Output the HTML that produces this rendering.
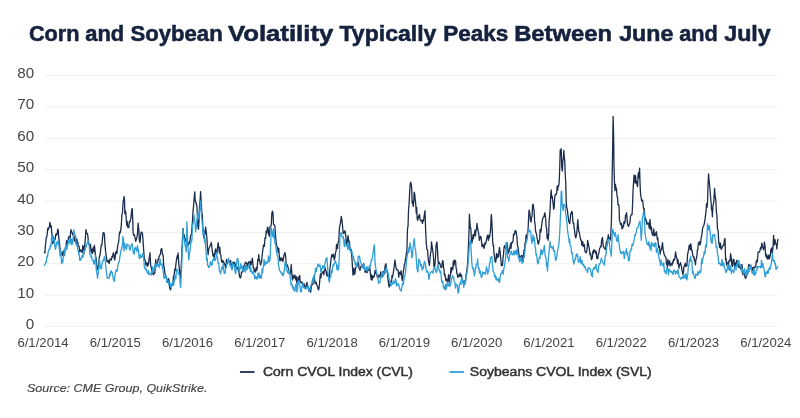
<!DOCTYPE html>
<html><head><meta charset="utf-8"><style>
html,body{margin:0;padding:0;background:#fff;}
body{width:800px;height:418px;overflow:hidden;position:relative;}
svg{position:absolute;left:0;top:0;}
.t{font-family:"Liberation Sans",sans-serif;font-weight:bold;fill:#15223e;stroke:#15223e;stroke-width:0.55px;font-size:22px;}
.yl{font-family:"Liberation Sans",sans-serif;fill:#444;font-size:15.2px;text-anchor:end;}
.xl{font-family:"Liberation Sans",sans-serif;fill:#444;font-size:13.5px;text-anchor:middle;}
.lg{font-family:"Liberation Sans",sans-serif;fill:#333;stroke:#333;stroke-width:0.45px;font-size:12.6px;}
.src{font-family:"Liberation Sans",sans-serif;fill:#444;stroke:#444;stroke-width:0.15px;font-size:11px;font-style:italic;}
</style></head><body>
<svg width="800" height="418" viewBox="0 0 800 418">
<text class="t" y="41.2"><tspan x="28.90" textLength="50.65" lengthAdjust="spacingAndGlyphs">Corn</tspan> <tspan x="85.20" textLength="39.00" lengthAdjust="spacingAndGlyphs">and</tspan> <tspan x="130.45" textLength="92.25" lengthAdjust="spacingAndGlyphs">Soybean</tspan> <tspan x="227.95" textLength="105.35" lengthAdjust="spacingAndGlyphs">Volatility</tspan> <tspan x="339.50" textLength="96.90" lengthAdjust="spacingAndGlyphs">Typically</tspan> <tspan x="443.20" textLength="65.10" lengthAdjust="spacingAndGlyphs">Peaks</tspan> <tspan x="514.20" textLength="97.85" lengthAdjust="spacingAndGlyphs">Between</tspan> <tspan x="619.20" textLength="54.10" lengthAdjust="spacingAndGlyphs">June</tspan> <tspan x="679.20" textLength="38.60" lengthAdjust="spacingAndGlyphs">and</tspan> <tspan x="724.20" textLength="46.60" lengthAdjust="spacingAndGlyphs">July</tspan> </text>
<g stroke="#efefef" stroke-width="1"><line x1="45" x2="777" y1="326.50" y2="326.50"/><line x1="45" x2="777" y1="295.12" y2="295.12"/><line x1="45" x2="777" y1="263.75" y2="263.75"/><line x1="45" x2="777" y1="232.38" y2="232.38"/><line x1="45" x2="777" y1="201.00" y2="201.00"/><line x1="45" x2="777" y1="169.62" y2="169.62"/><line x1="45" x2="777" y1="138.25" y2="138.25"/><line x1="45" x2="777" y1="106.88" y2="106.88"/><line x1="45" x2="777" y1="75.50" y2="75.50"/></g>
<g class="yl"><text x="34.1" y="329.00">0</text><text x="34.1" y="297.62">10</text><text x="34.1" y="266.25">20</text><text x="34.1" y="234.88">30</text><text x="34.1" y="203.50">40</text><text x="34.1" y="172.12">50</text><text x="34.1" y="140.75">60</text><text x="34.1" y="109.38">70</text><text x="34.1" y="78.00">80</text></g>
<g class="xl"><text x="43.00" y="346.9" textLength="51.2" lengthAdjust="spacingAndGlyphs">6/1/2014</text><text x="115.28" y="346.9" textLength="51.2" lengthAdjust="spacingAndGlyphs">6/1/2015</text><text x="187.56" y="346.9" textLength="51.2" lengthAdjust="spacingAndGlyphs">6/1/2016</text><text x="259.84" y="346.9" textLength="51.2" lengthAdjust="spacingAndGlyphs">6/1/2017</text><text x="332.12" y="346.9" textLength="51.2" lengthAdjust="spacingAndGlyphs">6/1/2018</text><text x="404.40" y="346.9" textLength="51.2" lengthAdjust="spacingAndGlyphs">6/1/2019</text><text x="476.68" y="346.9" textLength="51.2" lengthAdjust="spacingAndGlyphs">6/1/2020</text><text x="548.96" y="346.9" textLength="51.2" lengthAdjust="spacingAndGlyphs">6/1/2021</text><text x="621.24" y="346.9" textLength="51.2" lengthAdjust="spacingAndGlyphs">6/1/2022</text><text x="693.52" y="346.9" textLength="51.2" lengthAdjust="spacingAndGlyphs">6/1/2023</text><text x="765.80" y="346.9" textLength="51.2" lengthAdjust="spacingAndGlyphs">6/1/2024</text></g>
<polyline fill="none" stroke="#1b2d4d" stroke-width="1.3" stroke-linejoin="round" points="44.32,251.40 44.82,253.20 45.32,247.51 45.83,241.79 46.33,237.36 46.83,237.21 47.34,232.48 47.84,228.06 48.34,229.46 48.84,227.90 49.35,226.82 49.85,222.42 50.32,224.54 50.80,227.32 51.27,225.89 51.74,232.96 52.22,235.37 52.74,243.63 53.27,241.00 53.80,240.05 54.27,242.19 54.75,239.06 55.22,239.18 55.69,234.85 56.17,233.75 56.69,235.14 57.22,233.40 57.75,229.08 58.27,230.54 58.80,237.82 59.33,241.63 59.85,247.26 60.38,250.10 60.91,252.96 61.38,253.76 61.85,254.03 62.33,255.49 62.80,251.77 63.28,254.07 63.75,250.90 64.22,255.56 64.70,250.61 65.17,249.93 65.65,246.56 66.12,245.32 66.59,240.36 67.07,244.80 67.54,241.86 68.02,241.77 68.54,237.04 69.07,236.35 69.60,237.13 70.07,240.66 70.54,232.82 71.02,229.69 71.49,231.64 71.97,232.28 72.49,234.09 73.02,235.33 73.55,235.04 74.02,237.43 74.49,241.09 74.97,238.88 75.44,236.44 75.91,241.28 76.39,243.61 76.86,239.25 77.34,242.93 77.81,242.35 78.28,246.21 78.76,245.96 79.23,247.34 79.71,252.01 80.18,251.07 80.65,249.90 81.18,251.14 81.71,250.11 82.23,252.53 82.76,245.73 83.29,251.27 83.81,254.21 84.34,245.73 84.87,243.93 85.39,238.29 85.92,229.73 86.45,232.54 86.97,233.34 87.48,233.53 87.98,237.15 88.49,243.60 88.99,244.06 89.50,245.47 90.00,247.61 90.50,244.43 91.00,251.87 91.50,249.08 92.00,252.96 92.50,253.48 92.97,248.28 93.45,247.37 93.93,251.48 94.40,245.31 95.00,250.63 95.60,257.41 96.03,257.38 96.47,262.36 96.90,266.09 97.50,269.31 98.10,269.72 98.57,264.62 99.05,259.99 99.53,256.23 100.00,255.10 100.62,250.63 101.25,245.17 101.88,245.19 102.50,238.42 103.12,232.78 103.75,232.57 104.38,234.22 105.00,244.85 105.60,251.44 106.03,255.24 106.47,257.17 106.90,261.27 107.36,261.67 107.83,261.97 108.29,260.41 108.75,262.70 109.38,263.39 110.00,258.78 110.47,258.99 110.95,259.37 111.43,259.98 111.90,256.44 112.50,257.30 113.10,253.75 113.53,252.78 113.97,255.08 114.40,258.94 114.86,259.85 115.33,256.26 115.79,252.09 116.25,251.30 116.88,253.52 117.50,247.48 118.12,243.80 118.75,241.23 119.22,234.77 119.69,231.95 120.16,232.96 120.62,231.23 121.25,225.87 121.88,215.47 122.50,212.15 123.12,201.79 123.75,199.36 124.12,196.36 124.50,200.68 124.88,213.84 125.25,210.36 125.75,211.97 126.25,218.75 126.72,225.11 127.19,221.37 127.66,227.10 128.12,227.38 128.75,227.68 129.38,221.58 130.00,221.89 130.62,219.40 131.17,215.96 131.71,209.80 132.25,208.64 132.69,219.21 133.12,233.08 133.75,235.37 134.38,234.76 135.00,237.42 135.62,241.26 136.25,239.96 136.88,237.47 137.50,233.55 138.12,223.17 138.75,228.66 139.38,239.84 140.00,242.55 140.62,235.84 141.25,232.20 141.88,232.12 142.50,233.94 143.12,241.33 143.75,251.29 144.38,259.14 144.84,259.39 145.31,261.18 145.78,264.54 146.25,262.80 146.72,263.24 147.19,266.46 147.66,263.00 148.12,265.38 148.59,263.41 149.06,258.95 149.53,256.35 150.00,252.74 150.62,264.89 151.25,267.61 151.72,268.85 152.19,272.43 152.66,271.52 153.12,274.58 153.75,274.34 154.38,272.43 154.84,272.99 155.31,267.10 155.78,259.63 156.25,264.85 156.72,263.34 157.19,265.68 157.66,262.73 158.12,258.90 158.59,259.70 159.06,256.54 159.53,256.03 160.00,254.67 160.47,253.73 160.94,249.93 161.41,248.59 161.88,248.88 162.50,254.56 163.12,254.83 163.75,266.18 164.38,268.74 165.00,273.73 165.62,275.27 166.12,277.29 166.62,277.76 167.12,282.15 167.62,282.17 168.12,280.19 168.62,278.68 169.12,281.44 169.62,287.66 170.12,288.89 170.62,289.83 171.09,286.30 171.56,285.06 172.03,285.46 172.50,282.62 172.97,282.50 173.44,276.47 173.91,276.88 174.38,272.44 174.84,268.83 175.31,270.65 175.78,265.39 176.25,261.26 176.72,258.57 177.19,255.78 177.66,258.23 178.12,252.95 178.75,263.66 179.38,268.88 180.00,275.85 180.62,277.56 181.09,268.87 181.56,259.13 182.03,248.54 182.50,238.47 183.12,228.64 183.75,237.34 184.38,235.14 184.84,240.67 185.31,241.07 185.78,238.95 186.25,240.48 186.72,244.11 187.19,245.76 187.66,245.84 188.12,243.14 188.59,242.89 189.06,244.12 189.53,241.59 190.00,240.27 190.62,235.63 191.25,235.39 191.88,228.60 192.50,221.18 193.00,211.60 193.50,206.84 194.12,199.22 194.75,191.85 195.19,200.81 195.62,201.03 196.06,203.47 196.50,204.11 197.00,207.18 197.50,219.10 198.00,227.39 198.50,229.27 199.00,220.14 199.50,207.04 200.06,201.10 200.62,191.55 201.25,202.93 201.88,212.77 202.34,215.13 202.81,226.96 203.28,231.17 203.75,237.90 204.22,237.17 204.69,230.79 205.16,234.06 205.62,227.08 206.25,231.87 206.88,237.81 207.50,248.77 208.12,254.77 208.75,248.93 209.38,247.43 209.84,246.57 210.31,245.14 210.78,244.81 211.25,242.44 211.88,247.00 212.50,252.80 212.97,255.96 213.44,254.01 213.91,259.45 214.38,255.88 215.00,251.59 215.62,248.89 216.25,254.14 216.88,253.86 217.50,247.49 218.12,242.64 218.75,247.40 219.38,252.62 219.84,247.28 220.31,254.55 220.78,254.93 221.25,258.91 221.72,261.67 222.19,262.45 222.66,260.38 223.12,261.35 223.59,261.66 224.06,263.48 224.53,263.85 225.00,264.79 225.50,268.53 226.00,266.92 226.50,259.50 227.00,263.92 227.50,262.20 228.00,261.28 228.50,261.18 229.00,261.43 229.50,263.53 230.00,263.67 230.50,260.34 231.00,263.14 231.50,265.03 232.00,269.08 232.50,265.03 233.00,262.04 233.50,262.79 234.00,265.28 234.50,262.22 235.00,263.53 235.62,266.26 236.25,267.52 236.72,268.69 237.19,267.47 237.66,267.10 238.12,269.86 238.59,271.10 239.06,272.77 239.53,276.29 240.00,277.64 240.47,277.88 240.94,276.56 241.41,272.24 241.88,272.20 242.34,272.17 242.81,270.31 243.28,269.12 243.75,267.24 244.25,265.48 244.75,264.13 245.25,262.65 245.75,262.23 246.25,263.33 246.72,263.00 247.19,266.81 247.66,263.75 248.12,264.99 248.59,261.78 249.06,264.56 249.53,267.80 250.00,262.35 250.47,261.18 250.94,264.98 251.41,263.38 251.88,261.33 252.34,258.19 252.81,262.65 253.28,267.57 253.75,267.88 254.22,271.37 254.69,269.45 255.16,269.53 255.62,272.04 256.25,267.41 256.88,270.14 257.34,266.41 257.81,259.36 258.28,261.00 258.75,254.65 259.22,259.56 259.69,259.83 260.16,263.26 260.62,265.18 261.09,263.06 261.56,262.21 262.03,256.72 262.50,252.45 262.97,249.11 263.44,245.13 263.91,244.74 264.38,246.41 265.00,237.77 265.62,238.43 266.25,230.91 266.88,233.21 267.50,227.19 268.12,228.12 268.75,234.85 269.38,236.31 270.00,226.58 270.62,226.21 271.25,225.11 271.88,212.97 272.50,211.08 273.00,213.16 273.50,224.24 274.12,224.92 274.75,225.28 275.25,231.56 275.75,238.53 276.25,243.52 276.88,246.11 277.50,247.71 278.12,252.09 278.75,248.04 279.38,257.03 280.00,261.05 280.47,258.53 280.94,257.73 281.41,260.02 281.88,260.15 282.34,258.42 282.81,261.50 283.28,259.50 283.75,256.09 284.38,254.05 285.00,252.51 285.62,256.48 286.25,264.70 286.71,265.55 287.18,264.86 287.64,265.83 288.10,267.75 288.58,269.37 289.05,273.71 289.52,273.09 290.00,274.12 290.62,271.57 291.25,264.65 291.88,274.30 292.50,280.01 292.98,275.14 293.45,277.72 293.92,278.15 294.40,277.22 294.86,275.01 295.32,277.42 295.79,279.84 296.25,276.60 296.88,283.05 297.50,282.85 298.12,276.98 298.75,279.71 299.21,280.17 299.68,275.36 300.14,281.76 300.60,282.69 301.08,282.04 301.55,282.62 302.02,282.06 302.50,284.93 303.00,284.95 303.50,285.39 304.00,283.59 304.50,286.16 305.00,286.18 305.50,288.03 306.00,287.43 306.50,283.52 307.00,282.44 307.50,286.15 307.98,285.89 308.45,288.70 308.92,290.88 309.40,290.06 310.00,288.03 310.60,292.17 311.03,290.14 311.47,285.38 311.90,285.17 312.36,284.38 312.82,284.32 313.29,280.67 313.75,281.18 314.21,275.36 314.68,280.11 315.14,283.63 315.60,283.58 316.08,282.08 316.55,284.20 317.02,285.52 317.50,286.08 318.12,289.01 318.75,289.69 319.38,285.14 320.00,277.24 320.48,273.95 320.95,277.79 321.42,273.12 321.90,273.33 322.36,272.98 322.82,272.00 323.29,271.49 323.75,274.75 324.21,271.32 324.68,269.57 325.14,268.03 325.60,270.27 326.08,270.85 326.55,275.09 327.02,272.14 327.50,276.29 327.98,274.26 328.45,275.71 328.92,278.98 329.40,278.66 329.86,268.75 330.32,265.40 330.79,261.59 331.25,257.60 331.88,254.73 332.50,256.11 332.98,256.93 333.45,254.02 333.92,257.58 334.40,259.76 335.00,256.58 335.60,252.48 336.08,251.09 336.55,244.35 337.02,247.52 337.50,248.59 338.12,242.04 338.75,241.02 339.38,228.92 340.00,224.92 340.62,222.31 341.25,216.48 341.88,219.78 342.50,225.46 343.12,233.13 343.75,233.60 344.38,231.66 345.00,230.77 345.62,234.52 346.25,241.39 346.88,244.43 347.50,240.00 347.98,235.54 348.45,238.74 348.92,244.00 349.40,241.38 349.86,246.94 350.32,248.40 350.79,252.07 351.25,249.30 351.88,257.49 352.50,267.58 352.98,275.14 353.45,271.25 353.92,268.18 354.40,274.10 354.86,274.18 355.32,269.80 355.79,267.42 356.25,267.09 356.71,266.66 357.18,265.46 357.64,262.39 358.10,262.36 358.58,262.94 359.05,268.32 359.52,268.32 360.00,270.32 360.48,268.10 360.95,266.42 361.42,265.55 361.90,266.07 362.36,264.88 362.82,267.19 363.29,267.89 363.75,263.60 364.21,267.87 364.68,267.86 365.14,272.40 365.60,270.08 366.08,268.64 366.55,271.92 367.02,272.74 367.50,271.20 367.98,270.52 368.45,270.27 368.92,270.17 369.40,268.38 369.86,267.73 370.32,273.37 370.79,277.46 371.25,279.89 371.71,274.93 372.18,279.81 372.64,277.02 373.10,276.01 373.58,277.52 374.05,276.53 374.52,274.95 375.00,270.29 375.48,273.42 375.95,270.95 376.42,273.36 376.90,275.07 377.36,277.23 377.82,277.78 378.29,275.12 378.75,277.31 379.25,275.97 379.75,276.18 380.25,274.58 380.75,271.83 381.25,275.84 381.75,275.45 382.25,275.56 382.75,276.73 383.25,271.43 383.75,274.79 384.38,272.64 385.00,267.09 385.48,264.39 385.95,263.79 386.42,270.67 386.90,270.05 387.36,272.60 387.82,277.49 388.29,281.05 388.75,285.18 389.21,287.08 389.68,285.97 390.14,283.78 390.60,281.46 391.08,282.70 391.55,282.62 392.02,275.42 392.50,277.48 393.12,273.88 393.75,270.04 394.38,264.54 395.00,259.97 395.62,265.45 396.25,268.83 396.88,269.90 397.50,269.77 398.12,270.26 398.75,277.23 399.21,272.15 399.68,273.69 400.14,272.97 400.60,274.52 401.03,270.54 401.47,274.77 401.90,278.54 402.36,280.72 402.82,277.57 403.29,271.39 403.75,269.86 404.38,264.10 405.00,263.48 405.48,258.95 405.95,256.87 406.42,252.63 406.90,251.40 407.50,228.73 408.03,226.30 408.56,209.15 409.09,203.97 409.62,193.01 410.15,184.51 410.65,182.09 411.16,183.93 411.66,187.79 412.16,203.31 412.66,200.81 413.17,206.38 413.67,203.12 414.17,192.09 414.67,193.66 415.18,198.97 415.68,203.32 416.25,213.23 416.72,207.34 417.19,219.05 417.66,220.24 418.12,218.37 418.59,215.87 419.06,217.57 419.53,214.29 420.00,218.68 420.50,220.51 421.00,220.36 421.50,220.20 422.00,221.92 422.50,223.52 423.00,219.89 423.50,221.01 424.00,217.39 424.50,213.64 425.00,210.74 425.62,229.50 426.25,242.92 426.88,249.27 427.50,249.62 428.10,257.30 428.53,261.82 428.97,263.13 429.40,265.32 430.00,258.67 430.60,252.70 431.03,251.94 431.47,241.78 431.90,244.72 432.40,248.07 432.90,252.02 433.40,255.74 433.90,265.97 434.40,267.56 435.00,263.95 435.60,255.98 436.03,245.43 436.47,243.66 436.90,242.01 437.50,249.83 438.10,261.33 438.58,264.02 439.05,262.07 439.52,262.85 440.00,263.57 440.62,267.00 441.25,266.72 441.71,267.60 442.18,263.34 442.64,260.69 443.10,261.13 443.53,267.56 443.97,269.19 444.40,275.29 444.86,274.11 445.32,276.31 445.79,280.52 446.25,279.22 446.71,279.27 447.18,280.63 447.64,284.81 448.10,279.19 448.58,274.66 449.05,277.07 449.52,281.97 450.00,276.15 450.48,275.79 450.95,267.67 451.42,272.05 451.90,267.38 452.36,268.69 452.82,269.45 453.29,260.85 453.75,265.74 454.21,264.25 454.68,259.91 455.14,261.29 455.60,260.99 456.03,267.80 456.47,269.11 456.90,273.53 457.36,274.84 457.82,277.34 458.29,275.23 458.75,275.08 459.21,276.64 459.68,274.93 460.14,273.10 460.60,276.28 461.08,276.51 461.55,274.94 462.02,279.97 462.50,280.12 463.12,281.91 463.75,282.36 464.21,280.98 464.68,282.29 465.14,281.98 465.60,279.86 466.03,274.26 466.47,273.37 466.90,270.04 467.50,264.66 468.10,254.78 468.53,242.99 468.97,233.07 469.40,214.21 469.86,221.12 470.32,228.11 470.79,227.93 471.25,236.05 471.88,243.10 472.50,239.71 472.98,234.76 473.45,238.52 473.92,234.77 474.40,234.80 474.92,230.06 475.43,236.06 475.95,230.62 476.47,229.03 476.98,223.34 477.50,227.56 478.12,230.76 478.75,233.89 479.38,240.37 480.00,237.68 480.50,236.34 481.00,237.00 481.50,241.18 482.00,246.73 482.50,244.78 482.98,244.33 483.45,245.49 483.92,248.35 484.40,247.31 485.00,242.53 485.62,244.03 486.25,241.30 486.88,238.03 487.50,235.17 487.98,237.71 488.45,240.31 488.92,235.15 489.40,237.78 490.00,233.98 490.60,229.69 491.25,214.48 491.71,218.27 492.18,228.68 492.64,240.64 493.10,245.73 493.53,245.03 493.97,253.50 494.40,256.19 495.00,261.13 495.60,262.24 496.03,260.32 496.47,253.42 496.90,258.35 497.50,256.84 498.10,254.07 498.53,256.76 498.97,250.99 499.40,247.32 500.00,250.99 500.60,256.99 501.03,261.75 501.47,265.83 501.90,264.88 502.50,265.30 503.10,257.29 503.53,254.51 503.97,248.17 504.40,245.74 505.00,247.01 505.60,248.44 506.03,248.81 506.47,242.88 506.90,242.48 507.50,246.82 508.10,253.75 508.53,250.48 508.97,252.02 509.40,248.95 510.00,247.05 510.60,243.74 511.03,248.50 511.47,242.63 511.90,242.38 512.50,242.93 513.10,240.05 513.53,234.07 513.97,234.99 514.40,234.84 515.00,230.54 515.60,232.46 516.03,230.91 516.47,234.18 516.90,237.14 517.50,245.59 518.10,247.52 518.53,251.59 518.97,254.40 519.40,256.46 519.86,256.49 520.33,258.18 520.79,257.14 521.25,255.67 521.71,256.55 522.17,255.32 522.64,261.27 523.10,261.34 523.53,258.12 523.97,249.83 524.40,253.02 525.00,242.84 525.60,242.24 526.03,235.51 526.47,241.51 526.90,235.25 527.50,233.01 528.10,229.74 528.57,218.28 529.05,210.07 529.55,211.49 530.05,215.49 530.55,221.40 531.06,221.81 531.56,217.04 532.06,216.33 532.56,205.42 533.07,204.01 533.57,207.55 534.07,210.29 534.57,220.89 535.08,224.23 535.58,230.74 536.08,233.04 536.58,234.16 537.09,238.40 537.59,240.24 538.09,243.92 538.59,244.01 539.10,240.56 539.60,239.76 540.10,229.43 540.60,232.30 541.11,230.66 541.61,225.78 542.11,221.67 542.61,219.42 543.12,217.16 543.62,216.94 544.12,216.67 544.62,212.78 545.13,214.10 545.63,218.25 546.13,227.07 546.63,228.22 547.14,238.47 547.64,234.77 548.14,240.28 548.64,235.20 549.15,220.06 549.65,215.98 550.15,208.31 550.65,196.99 551.16,189.97 551.66,197.83 552.16,196.07 552.66,200.02 553.17,203.79 553.67,209.44 554.17,207.68 554.67,198.32 555.18,194.66 555.68,194.35 556.18,194.62 556.68,192.89 557.19,186.08 557.69,190.21 558.19,185.36 558.69,185.82 559.20,181.88 559.70,168.60 560.20,150.00 560.70,153.07 561.21,148.64 561.80,167.86 562.40,171.09 562.87,160.07 563.35,159.02 563.82,150.38 564.29,156.79 564.76,160.99 565.23,174.45 565.73,182.07 566.23,201.84 566.73,207.90 567.24,208.79 567.74,213.58 568.24,217.44 568.74,221.22 569.25,222.64 569.75,223.64 570.25,218.73 570.75,213.52 571.26,213.58 571.76,211.31 572.26,212.26 572.76,220.04 573.27,223.67 573.77,223.27 574.27,228.57 574.77,232.41 575.28,236.21 575.78,237.85 576.28,235.65 576.78,233.12 577.29,226.74 577.79,219.63 578.29,225.82 578.79,231.14 579.30,232.26 579.80,235.24 580.30,238.27 580.80,240.17 581.31,240.15 581.81,245.27 582.31,242.43 582.81,241.73 583.32,246.50 583.82,246.68 584.32,244.65 585.00,251.46 585.62,252.41 586.25,252.60 586.71,251.66 587.17,248.28 587.64,240.33 588.10,242.72 588.58,245.03 589.05,247.12 589.52,250.53 590.00,254.78 590.48,253.12 590.95,255.83 591.42,259.66 591.90,258.73 592.36,257.68 592.83,251.35 593.29,253.17 593.75,249.74 594.21,251.94 594.67,250.30 595.14,250.83 595.60,253.38 596.03,251.16 596.47,255.27 596.90,258.46 597.36,256.07 597.83,258.62 598.29,253.62 598.75,253.63 599.21,251.25 599.67,248.23 600.14,247.50 600.60,246.29 601.08,246.92 601.55,240.81 602.02,238.79 602.50,237.43 603.12,245.52 603.75,247.33 604.38,248.05 605.00,248.94 605.48,249.60 605.95,245.05 606.42,241.93 606.90,243.17 607.36,239.02 607.83,238.99 608.29,234.54 608.75,237.59 609.21,238.84 609.67,238.32 610.14,237.82 610.60,240.08 611.03,229.58 611.46,220.38 612.00,184.66 612.55,155.07 613.10,116.43 613.56,132.80 614.01,165.42 614.47,182.56 614.97,190.65 615.48,184.50 615.98,188.87 616.48,188.49 616.98,196.32 617.49,196.78 617.99,205.04 618.49,204.45 618.99,206.02 619.50,220.71 620.00,221.52 620.50,224.70 621.01,224.57 621.51,223.40 622.01,228.94 622.51,228.57 623.02,226.02 623.52,226.60 624.02,221.56 624.52,223.57 625.03,222.31 625.53,215.17 626.03,216.52 626.53,212.57 627.04,217.91 627.54,224.36 628.04,225.33 628.54,226.44 629.05,224.76 629.55,223.63 630.05,221.70 630.55,215.90 631.06,215.38 631.56,214.08 632.06,214.61 632.56,204.71 633.07,189.51 633.57,182.25 634.07,174.89 634.57,177.23 635.08,182.92 635.58,175.53 636.08,183.17 636.58,181.09 637.09,185.25 637.59,186.56 638.09,174.85 638.59,172.40 639.10,178.04 639.60,168.15 640.10,184.95 640.60,194.79 641.11,197.48 641.61,200.93 642.11,200.95 642.61,200.03 643.12,205.15 643.62,208.98 644.12,208.21 644.62,214.01 645.00,218.29 645.48,217.95 645.95,221.05 646.42,220.36 646.90,224.37 647.50,223.80 648.10,222.87 648.53,223.06 648.97,226.42 649.40,228.55 650.00,219.42 650.60,226.61 651.03,230.22 651.47,227.03 651.90,232.75 652.36,234.34 652.83,235.42 653.29,233.19 653.75,229.01 654.38,236.02 655.00,233.82 655.48,235.23 655.95,232.28 656.42,231.68 656.90,236.19 657.36,239.51 657.83,237.80 658.29,244.46 658.75,247.75 659.21,245.97 659.67,247.77 660.14,254.20 660.60,251.15 661.08,250.22 661.55,249.26 662.02,245.88 662.50,242.57 663.12,249.18 663.75,252.62 664.38,255.11 665.00,255.91 665.48,257.39 665.95,257.34 666.42,263.93 666.90,263.12 667.36,267.32 667.83,259.36 668.29,264.68 668.75,263.82 669.21,261.68 669.67,260.79 670.14,266.11 670.60,264.89 671.08,263.86 671.55,263.75 672.02,265.36 672.50,261.93 672.98,263.10 673.45,259.67 673.92,259.17 674.40,260.11 675.00,257.48 675.60,251.96 676.08,255.20 676.55,257.72 677.02,258.34 677.50,263.53 678.00,259.56 678.50,264.77 679.00,268.14 679.50,264.35 680.00,264.88 680.50,262.73 681.00,265.24 681.50,266.34 682.00,270.11 682.50,272.87 682.98,274.44 683.45,272.68 683.92,266.56 684.40,266.41 684.86,264.73 685.33,263.18 685.79,266.30 686.25,265.01 686.88,266.03 687.50,255.23 688.12,251.81 688.75,248.94 689.21,245.08 689.67,247.29 690.14,249.39 690.60,243.85 691.03,244.78 691.47,250.50 691.90,249.79 692.50,253.45 693.10,256.13 693.58,257.88 694.05,256.95 694.52,260.93 695.00,261.41 695.48,264.73 695.95,259.29 696.42,258.75 696.90,255.85 697.36,249.94 697.83,249.71 698.29,243.24 698.75,243.61 699.38,241.60 700.00,245.04 700.62,242.97 701.25,237.42 701.88,234.83 702.50,228.89 703.00,226.90 703.50,226.30 704.00,224.77 704.50,222.97 705.00,219.07 705.50,215.31 706.00,211.97 706.50,203.71 707.00,207.46 707.50,203.18 708.02,185.76 708.54,173.79 709.11,181.06 709.68,186.03 710.25,193.05 710.70,198.69 711.15,203.31 711.60,209.96 712.00,210.42 712.40,216.74 712.94,205.25 713.49,203.88 714.03,198.70 714.57,188.47 715.18,196.22 715.78,200.07 716.35,211.45 716.93,215.90 717.50,229.18 718.12,230.61 718.75,242.73 719.21,244.15 719.67,247.62 720.14,242.91 720.60,244.00 721.08,249.29 721.55,249.06 722.02,247.58 722.50,246.59 723.12,245.45 723.75,245.46 724.38,240.20 725.00,238.49 725.60,259.94 726.08,258.59 726.55,264.85 727.02,264.56 727.50,262.41 727.98,265.60 728.45,265.63 728.92,261.03 729.40,260.39 730.00,260.98 730.60,253.75 731.03,256.13 731.47,261.60 731.90,265.28 732.50,266.49 733.10,259.26 733.53,261.59 733.97,259.62 734.40,265.73 735.00,266.38 735.60,262.81 736.03,265.45 736.47,261.97 736.90,260.05 737.36,263.20 737.83,265.24 738.29,266.26 738.75,267.29 739.21,264.02 739.67,267.35 740.14,267.84 740.60,269.06 741.08,267.85 741.55,265.00 742.02,264.65 742.50,271.06 742.98,274.81 743.45,272.07 743.92,270.66 744.40,272.54 744.86,277.01 745.33,277.87 745.79,278.30 746.25,276.54 746.71,275.25 747.17,274.02 747.64,273.51 748.10,271.69 748.53,265.44 748.97,264.68 749.40,265.01 749.86,265.10 750.33,265.79 750.79,266.12 751.25,267.26 751.71,267.94 752.17,270.64 752.64,267.61 753.10,267.61 753.58,270.39 754.05,266.84 754.52,267.09 755.00,267.19 755.62,267.15 756.25,261.75 756.71,260.08 757.17,262.10 757.64,258.40 758.10,252.15 758.58,252.06 759.05,251.94 759.52,252.12 760.00,250.22 760.48,247.62 760.95,249.05 761.42,246.05 761.90,243.05 762.50,246.96 763.10,248.15 763.53,249.79 763.97,246.99 764.40,242.09 765.00,245.99 765.60,254.72 766.08,256.80 766.55,254.51 767.02,258.48 767.50,256.20 767.98,259.09 768.45,256.67 768.92,254.96 769.40,258.80 769.86,256.45 770.33,256.16 770.79,249.33 771.25,250.87 771.71,247.97 772.17,253.19 772.64,249.87 773.10,245.88 773.58,235.34 774.05,245.20 774.52,243.07 775.00,239.71 775.62,243.62 776.25,244.03 776.88,249.02 777.50,241.50 778.10,239.00"/>
<polyline fill="none" stroke="#2f9fd8" stroke-width="1.3" stroke-linejoin="round" points="44.32,265.84 44.85,264.07 45.37,263.63 45.90,261.99 46.43,262.24 46.95,255.96 47.48,257.21 47.95,253.40 48.43,250.82 48.90,249.50 49.37,248.82 49.85,249.35 50.32,245.15 50.80,246.59 51.27,243.40 51.74,234.33 52.22,241.64 52.74,239.11 53.27,236.16 53.80,236.86 54.32,241.69 54.85,245.60 55.38,249.29 55.90,247.78 56.43,242.30 56.96,245.01 57.48,241.14 58.01,241.33 58.54,241.56 59.06,246.80 59.59,250.59 60.12,255.92 60.64,249.90 61.17,257.99 61.70,263.55 62.22,259.77 62.75,262.34 63.28,257.21 63.80,255.26 64.33,249.59 64.86,254.10 65.38,247.28 65.91,244.20 66.44,248.31 66.91,249.66 67.38,246.47 67.86,245.31 68.33,240.04 68.81,242.74 69.28,242.96 69.75,237.68 70.23,242.66 70.70,239.06 71.18,244.59 71.70,239.09 72.23,244.30 72.76,242.62 73.28,236.63 73.81,229.71 74.33,233.26 74.86,234.53 75.39,235.36 75.91,241.53 76.39,245.59 76.86,245.52 77.34,245.84 77.81,250.44 78.28,251.00 78.76,254.59 79.23,254.22 79.71,260.28 80.18,258.69 80.65,260.26 81.13,258.97 81.60,257.13 82.08,255.37 82.55,256.40 83.02,257.50 83.50,250.38 83.97,252.16 84.45,251.31 84.92,249.97 85.39,249.64 85.87,244.60 86.34,246.75 86.82,243.95 87.29,242.90 87.76,241.49 88.26,240.53 88.75,242.28 89.22,245.45 89.69,253.36 90.16,254.91 90.62,254.06 91.09,257.35 91.56,256.02 92.03,259.42 92.50,260.51 93.12,260.03 93.75,263.87 94.22,264.16 94.69,260.62 95.16,259.29 95.62,255.39 96.25,269.98 96.88,272.96 97.50,278.08 98.12,273.96 98.75,268.67 99.38,258.85 100.00,264.58 100.62,268.65 101.09,268.02 101.56,268.65 102.03,263.70 102.50,261.31 102.97,261.58 103.44,259.14 103.91,259.81 104.38,256.37 105.00,258.01 105.62,264.67 106.25,270.60 106.88,275.15 107.34,278.44 107.81,277.56 108.28,277.63 108.75,277.16 109.22,278.26 109.69,273.45 110.16,275.55 110.62,272.29 111.09,270.59 111.56,272.73 112.03,272.28 112.50,273.55 112.97,276.97 113.44,279.33 113.91,280.72 114.38,281.21 115.00,274.86 115.62,272.32 116.09,269.77 116.56,269.97 117.03,271.21 117.50,268.75 118.12,263.71 118.75,262.29 119.22,262.12 119.69,257.97 120.16,254.94 120.62,251.34 121.09,250.83 121.56,247.73 122.03,248.01 122.50,242.81 123.00,236.39 123.50,241.13 124.00,251.05 124.50,243.21 125.00,244.99 125.50,248.04 126.00,246.32 126.50,249.48 127.00,243.80 127.50,245.86 128.00,245.32 128.50,245.33 129.00,245.00 129.50,249.66 130.00,250.08 130.47,248.70 130.94,245.90 131.41,245.70 131.88,243.73 132.34,244.29 132.81,249.48 133.28,252.41 133.75,253.80 134.22,254.10 134.69,248.39 135.16,248.02 135.62,247.33 136.09,249.82 136.56,248.46 137.03,251.80 137.50,245.60 137.97,249.24 138.44,249.35 138.91,255.77 139.38,258.69 139.84,257.57 140.31,254.73 140.78,257.52 141.25,256.32 141.72,257.13 142.19,256.75 142.66,253.41 143.12,254.39 143.75,258.82 144.38,267.28 144.84,265.93 145.31,269.78 145.78,268.70 146.25,269.11 146.72,271.17 147.19,272.63 147.66,273.31 148.12,272.73 148.59,270.68 149.06,274.94 149.53,274.22 150.00,273.55 150.47,273.92 150.94,273.52 151.41,275.10 151.88,271.51 152.34,272.25 152.81,266.75 153.28,272.25 153.75,269.18 154.38,269.37 155.00,263.95 155.47,267.86 155.94,264.00 156.41,266.97 156.88,266.30 157.34,263.41 157.81,265.20 158.28,265.27 158.75,264.18 159.22,267.58 159.69,261.64 160.16,259.24 160.62,264.82 161.09,264.91 161.56,264.39 162.03,263.69 162.50,268.58 163.12,270.03 163.75,277.26 164.22,278.35 164.69,277.75 165.16,275.16 165.62,275.96 166.09,275.91 166.56,281.53 167.03,278.98 167.50,280.37 167.97,280.67 168.44,281.88 168.91,285.03 169.38,284.88 169.84,285.37 170.31,283.36 170.78,287.38 171.25,287.75 171.72,285.67 172.19,285.21 172.66,282.95 173.12,282.02 173.59,285.36 174.06,282.08 174.53,280.44 175.00,276.42 175.47,275.57 175.94,278.72 176.41,269.11 176.88,269.85 177.34,269.55 177.81,270.99 178.28,274.11 178.75,273.63 179.22,273.91 179.69,277.23 180.16,284.03 180.62,287.69 181.12,278.02 181.62,268.26 182.11,251.95 182.60,242.60 183.10,228.28 183.75,238.04 184.38,239.60 185.00,245.17 185.60,247.26 186.20,251.89 186.90,221.68 187.60,240.38 188.18,250.95 188.75,259.91 189.21,255.60 189.68,252.15 190.14,249.47 190.60,245.55 191.03,239.60 191.47,242.01 191.90,240.29 192.50,225.30 192.97,223.98 193.45,221.24 193.93,214.58 194.40,220.19 195.00,222.12 195.60,231.88 196.07,228.41 196.55,225.32 197.03,218.06 197.50,219.16 197.97,211.63 198.45,214.95 198.93,218.35 199.40,212.75 200.00,208.62 200.60,201.01 201.03,207.60 201.47,216.62 201.90,219.38 202.50,226.34 203.10,234.92 203.57,231.44 204.05,231.30 204.53,242.20 205.00,238.21 205.62,246.66 206.25,254.67 206.72,260.74 207.19,258.14 207.66,265.49 208.12,265.34 208.75,267.44 209.38,267.38 209.84,265.78 210.31,261.73 210.78,264.30 211.25,262.92 211.72,265.27 212.19,264.79 212.66,260.00 213.12,260.06 213.59,257.37 214.06,257.58 214.53,260.29 215.00,259.40 215.47,260.24 215.94,258.22 216.41,252.43 216.88,256.16 217.50,257.53 218.12,263.34 218.75,262.84 219.38,271.15 220.00,271.28 220.62,273.87 221.25,270.44 221.88,267.49 222.50,269.05 223.12,264.04 223.59,268.92 224.06,272.94 224.53,272.99 225.00,273.58 225.62,268.28 226.25,267.06 226.72,264.82 227.19,262.01 227.66,261.83 228.12,258.98 228.59,258.40 229.06,260.68 229.53,264.64 230.00,262.61 230.47,266.91 230.94,266.54 231.41,266.01 231.88,269.88 232.34,263.72 232.81,267.10 233.28,264.16 233.75,264.04 234.22,264.20 234.69,268.44 235.16,271.94 235.62,273.72 236.09,270.80 236.56,264.72 237.03,259.45 237.50,258.31 237.97,259.53 238.44,262.92 238.91,268.81 239.38,272.41 239.84,269.46 240.31,267.77 240.78,263.66 241.25,267.26 241.75,268.50 242.25,265.98 242.75,268.25 243.25,271.60 243.75,271.12 244.22,269.74 244.69,267.14 245.16,272.05 245.62,265.50 246.09,270.22 246.56,266.54 247.03,269.23 247.50,268.75 247.97,268.36 248.44,265.15 248.91,265.04 249.38,263.57 249.84,265.78 250.31,271.68 250.78,267.43 251.25,270.89 251.75,271.57 252.25,273.59 252.75,271.69 253.25,273.51 253.75,272.63 254.22,275.40 254.69,278.60 255.16,275.87 255.62,277.64 256.09,278.66 256.56,276.85 257.03,279.17 257.50,278.48 257.97,273.39 258.44,277.42 258.91,272.85 259.38,274.07 259.84,278.30 260.31,276.06 260.78,275.48 261.25,278.20 261.72,274.08 262.19,268.81 262.66,272.64 263.12,267.17 263.59,266.04 264.06,259.50 264.53,262.75 265.00,265.23 265.50,264.11 266.00,261.90 266.50,261.70 267.00,263.36 267.50,262.73 268.00,261.84 268.50,255.99 269.00,259.49 269.50,261.67 270.00,259.39 270.62,245.63 271.25,227.63 271.88,230.07 272.50,235.17 273.12,237.42 273.75,228.63 274.38,236.11 275.00,243.47 275.62,244.20 276.25,249.87 276.88,253.87 277.50,255.81 278.00,257.70 278.50,264.94 279.00,267.07 279.50,270.25 280.00,271.16 280.47,271.33 280.94,272.59 281.41,273.42 281.88,272.68 282.34,275.05 282.81,273.62 283.28,275.47 283.75,273.57 284.38,269.94 285.00,262.39 285.48,262.69 285.95,262.97 286.42,269.98 286.90,270.17 287.36,271.62 287.82,272.97 288.29,270.46 288.75,272.48 289.21,273.46 289.68,272.31 290.14,277.11 290.60,281.00 291.08,285.15 291.55,283.45 292.02,284.33 292.50,287.66 292.98,288.87 293.45,286.71 293.92,289.98 294.40,291.08 295.00,291.19 295.60,284.87 296.03,285.53 296.47,283.71 296.90,292.18 297.50,289.82 298.10,281.31 298.58,280.59 299.05,283.79 299.52,284.38 300.00,286.22 300.48,291.45 300.95,292.08 301.42,291.39 301.90,286.76 302.36,286.11 302.82,282.59 303.29,287.46 303.75,287.59 304.25,287.85 304.75,287.34 305.25,288.96 305.75,289.12 306.25,287.60 306.71,288.53 307.18,286.84 307.64,285.75 308.10,286.52 308.58,287.15 309.05,291.78 309.52,290.75 310.00,288.84 310.48,289.83 310.95,285.36 311.42,283.57 311.90,282.41 312.50,279.72 313.10,277.64 313.58,281.99 314.05,278.96 314.52,274.02 315.00,274.76 315.48,268.23 315.95,271.45 316.42,271.50 316.90,267.64 317.50,266.92 318.10,263.92 318.58,265.59 319.05,266.38 319.52,265.83 320.00,264.80 320.62,270.37 321.25,272.86 321.71,268.51 322.18,268.62 322.64,265.65 323.10,267.53 323.58,265.95 324.05,268.85 324.52,268.34 325.00,263.75 325.48,261.00 325.95,258.81 326.42,259.94 326.90,257.29 327.50,266.07 328.10,273.44 328.53,278.11 328.97,281.06 329.40,282.29 329.86,277.94 330.32,277.71 330.79,276.44 331.25,273.11 331.71,270.08 332.18,272.47 332.64,267.06 333.10,264.67 333.58,266.00 334.05,264.29 334.52,263.00 335.00,261.43 335.48,260.96 335.95,263.27 336.42,264.42 336.90,269.63 337.36,267.19 337.82,265.05 338.29,270.08 338.75,266.46 339.12,261.81 339.50,251.65 340.00,236.08 340.62,233.40 341.25,232.51 341.88,236.28 342.50,237.31 343.12,236.29 343.75,241.42 344.38,246.67 345.00,239.52 345.62,244.00 346.25,246.08 346.75,245.49 347.25,245.99 347.75,249.11 348.25,244.14 348.75,242.32 349.40,250.22 349.86,249.39 350.32,248.64 350.79,252.46 351.25,252.47 351.71,250.94 352.18,253.48 352.64,254.74 353.10,257.40 353.58,256.59 354.05,260.78 354.52,260.59 355.00,262.33 355.48,265.49 355.95,262.74 356.42,266.62 356.90,266.43 357.36,263.87 357.82,262.33 358.29,256.14 358.75,257.45 359.21,256.02 359.68,257.05 360.14,260.99 360.60,262.31 361.08,262.87 361.55,264.65 362.02,267.15 362.50,265.18 362.98,268.31 363.45,264.72 363.92,264.77 364.40,266.37 364.86,270.32 365.32,270.11 365.79,268.40 366.25,269.73 366.71,266.64 367.18,271.06 367.64,267.26 368.10,268.64 368.58,269.27 369.05,268.86 369.52,265.61 370.00,266.68 370.62,264.83 371.25,260.12 371.88,260.49 372.50,256.24 373.12,253.61 373.75,247.52 374.40,244.77 375.00,262.20 375.62,266.90 376.25,271.27 376.71,273.13 377.18,274.50 377.64,276.92 378.10,280.15 378.58,283.44 379.05,281.54 379.52,282.51 380.00,282.12 380.48,277.60 380.95,277.35 381.42,275.94 381.90,277.57 382.36,271.79 382.82,274.74 383.29,275.21 383.75,273.05 384.38,271.76 385.00,270.12 385.62,272.55 386.25,267.83 386.88,269.44 387.50,273.63 387.98,272.07 388.45,275.52 388.92,278.79 389.40,279.09 390.00,282.83 390.60,282.76 391.08,285.84 391.55,282.27 392.02,284.61 392.50,283.99 392.98,283.78 393.45,281.18 393.92,282.56 394.40,282.53 394.86,283.74 395.32,278.49 395.79,279.74 396.25,281.63 396.71,286.09 397.18,283.97 397.64,283.69 398.10,284.93 398.58,284.02 399.05,285.89 399.52,288.18 400.00,289.74 400.62,289.68 401.25,291.28 401.71,287.14 402.18,286.42 402.64,282.80 403.10,284.89 403.58,282.65 404.05,278.92 404.52,277.33 405.00,275.12 405.62,271.31 406.25,263.49 406.88,257.79 407.50,254.59 407.98,247.44 408.45,252.65 408.92,252.49 409.40,249.14 410.00,242.83 410.62,245.89 411.25,250.04 411.90,257.88 412.45,256.05 413.00,247.48 413.47,244.40 413.93,240.19 414.40,238.89 415.00,247.96 415.60,249.94 416.25,257.82 416.88,267.87 417.50,270.99 417.98,271.89 418.45,263.89 418.92,259.04 419.40,260.11 420.00,261.74 420.60,266.26 421.08,266.49 421.55,264.46 422.02,270.20 422.50,267.94 422.98,267.44 423.45,268.57 423.92,264.06 424.40,261.35 424.86,263.32 425.32,263.02 425.79,267.00 426.25,270.98 426.71,271.69 427.18,272.25 427.64,271.00 428.10,272.75 428.53,275.35 428.97,279.55 429.40,276.30 430.00,273.66 430.60,272.31 431.08,272.15 431.55,271.50 432.02,271.53 432.50,271.65 432.98,273.35 433.45,268.86 433.92,269.22 434.40,267.46 434.86,267.93 435.32,269.27 435.79,271.19 436.25,272.64 436.88,271.54 437.50,265.09 437.98,264.95 438.45,267.64 438.92,269.11 439.40,271.17 439.86,269.84 440.32,273.19 440.79,271.56 441.25,277.65 441.71,281.10 442.18,282.85 442.64,280.86 443.10,283.76 443.58,288.03 444.05,287.24 444.52,286.35 445.00,289.92 445.62,284.50 446.25,288.80 446.88,286.68 447.50,282.24 447.98,283.52 448.45,285.76 448.92,285.59 449.40,283.96 449.86,286.71 450.32,283.53 450.79,284.47 451.25,280.06 451.71,278.08 452.18,277.66 452.64,275.52 453.10,277.51 453.58,277.25 454.05,280.35 454.52,282.04 455.00,282.87 455.48,287.99 455.95,284.05 456.42,284.10 456.90,284.96 457.36,285.16 457.82,291.43 458.29,293.19 458.75,291.31 459.38,284.84 460.00,283.53 460.48,281.91 460.95,284.45 461.42,278.20 461.90,279.01 462.36,278.64 462.82,283.19 463.29,282.91 463.75,287.34 464.21,280.80 464.68,284.61 465.14,283.70 465.60,282.28 466.08,274.07 466.55,274.47 467.02,272.52 467.50,269.65 468.12,262.55 468.75,254.97 469.38,245.47 470.00,241.69 470.62,239.98 471.25,252.47 471.88,262.89 472.50,268.77 472.98,267.79 473.45,269.09 473.92,272.66 474.40,276.00 474.86,272.99 475.32,267.94 475.79,268.32 476.25,264.07 476.71,264.22 477.18,263.55 477.64,259.01 478.10,267.28 478.58,268.93 479.05,267.87 479.52,273.13 480.00,272.40 480.48,270.79 480.95,275.92 481.42,277.51 481.90,277.08 482.36,273.73 482.82,271.89 483.29,273.04 483.75,273.74 484.38,272.65 485.00,273.75 485.48,274.50 485.95,271.09 486.42,267.01 486.90,268.43 487.36,270.30 487.82,274.18 488.29,271.45 488.75,271.36 489.21,266.24 489.68,262.49 490.14,262.64 490.60,257.42 491.03,257.24 491.47,256.98 491.90,256.54 492.50,265.12 493.10,271.27 493.58,271.85 494.05,272.33 494.52,276.80 495.00,276.77 495.48,275.25 495.95,279.75 496.42,277.36 496.90,279.81 497.50,279.37 498.10,281.11 498.58,279.38 499.05,278.29 499.52,282.71 500.00,278.53 500.48,275.06 500.95,273.23 501.42,273.73 501.90,272.20 502.36,270.58 502.82,270.56 503.29,274.09 503.75,269.03 504.38,266.30 505.00,262.54 505.62,257.22 506.25,242.62 506.88,248.54 507.50,257.30 508.12,257.87 508.75,261.41 509.38,256.16 510.00,254.79 510.62,252.40 511.25,250.99 511.88,253.94 512.50,254.92 513.12,254.10 513.75,251.41 514.38,254.83 515.00,250.56 515.62,251.97 516.25,254.66 516.88,249.14 517.50,251.25 518.12,256.26 518.75,258.78 519.21,258.41 519.67,261.78 520.14,261.05 520.60,257.65 521.08,260.66 521.55,256.92 522.02,263.13 522.50,263.04 523.12,261.98 523.75,257.45 524.38,256.05 525.00,248.71 525.62,245.11 526.25,241.41 526.88,239.44 527.50,237.69 528.12,229.00 528.75,229.17 529.21,229.86 529.67,231.95 530.14,231.94 530.60,231.17 531.03,235.29 531.47,240.71 531.90,243.48 532.50,239.22 533.10,234.78 533.53,240.84 533.97,239.14 534.40,237.65 535.00,246.20 535.60,249.08 536.03,255.03 536.47,253.97 536.90,257.52 537.50,262.80 538.10,263.87 538.53,262.31 538.97,258.41 539.40,257.51 540.00,258.45 540.60,252.30 541.03,249.35 541.47,250.00 541.90,254.49 542.50,254.14 543.10,250.53 543.53,251.20 543.97,247.77 544.40,245.39 545.00,255.04 545.60,257.06 546.03,257.69 546.47,266.26 546.90,262.57 547.50,271.11 548.12,261.23 548.75,255.33 549.38,248.04 550.00,241.36 550.62,247.22 551.25,246.40 551.88,248.01 552.50,248.50 553.12,246.15 553.75,251.41 554.38,250.38 555.00,255.18 555.62,260.47 556.25,259.22 556.88,256.00 557.50,251.07 558.12,247.84 558.75,245.33 559.20,240.57 559.65,233.27 560.10,224.26 560.65,211.12 561.21,191.57 561.71,191.28 562.21,204.51 562.71,208.14 563.22,210.49 563.72,204.27 564.22,204.13 564.72,204.65 565.23,206.07 565.68,214.23 566.14,215.01 566.59,220.65 567.05,223.25 567.50,229.88 568.12,234.43 568.75,237.63 569.21,242.73 569.67,239.49 570.14,245.39 570.60,246.41 571.08,246.90 571.55,253.47 572.02,252.01 572.50,254.89 573.12,260.33 573.75,264.11 574.38,261.39 575.00,259.11 575.48,259.58 575.95,255.02 576.42,256.43 576.90,253.81 577.36,254.05 577.83,256.68 578.29,262.14 578.75,261.42 579.21,260.55 579.67,261.92 580.14,256.61 580.60,258.82 581.08,263.72 581.55,260.16 582.02,260.35 582.50,264.71 582.98,264.29 583.45,264.13 583.92,266.21 584.40,267.25 585.00,266.24 585.62,269.42 586.25,270.14 586.88,270.40 587.50,272.66 588.12,267.63 588.75,268.51 589.38,267.87 590.00,269.02 590.48,269.62 590.95,272.00 591.42,275.64 591.90,273.06 592.36,276.85 592.83,269.91 593.29,269.35 593.75,267.64 594.21,269.15 594.67,268.67 595.14,266.85 595.60,266.27 596.08,264.43 596.55,269.49 597.02,270.97 597.50,271.15 598.12,272.43 598.75,266.12 599.38,263.75 600.00,263.86 600.62,262.27 601.25,258.20 601.88,260.04 602.50,261.45 603.12,263.02 603.75,263.31 604.40,265.17 604.86,260.37 605.33,255.66 605.79,255.81 606.25,252.25 606.71,245.80 607.17,246.10 607.64,242.13 608.10,238.83 608.58,239.71 609.05,240.98 609.52,244.72 610.00,249.73 610.62,251.32 611.25,256.22 611.88,242.56 612.50,229.28 613.12,230.26 613.75,233.60 614.21,233.92 614.67,236.04 615.14,232.43 615.60,234.55 616.03,236.46 616.47,240.02 616.90,241.43 617.50,240.42 618.10,234.66 618.53,240.60 618.97,242.76 619.40,246.79 620.00,250.66 620.60,253.24 621.08,251.66 621.55,253.09 622.02,253.62 622.50,252.58 622.98,253.03 623.45,251.29 623.92,255.51 624.40,258.63 625.00,253.04 625.60,251.21 626.03,251.65 626.47,248.56 626.90,254.64 627.50,252.55 628.10,256.10 628.53,260.99 628.97,259.72 629.40,260.16 630.00,251.03 630.60,251.41 631.08,248.85 631.55,249.24 632.02,244.17 632.50,244.92 632.98,245.32 633.45,242.40 633.92,241.08 634.40,238.57 634.86,234.78 635.33,235.65 635.79,233.59 636.25,232.52 636.88,228.26 637.50,227.34 638.12,227.28 638.75,224.20 639.38,222.75 640.00,221.08 640.62,230.48 641.25,240.24 641.88,230.31 642.50,217.87 643.12,214.84 643.75,210.73 644.38,215.63 645.00,232.56 645.62,237.13 646.25,239.86 646.88,243.02 647.50,244.72 648.12,244.96 648.75,241.58 649.21,246.53 649.67,243.84 650.14,248.69 650.60,246.57 651.08,250.67 651.55,242.20 652.02,245.94 652.50,244.14 653.00,243.96 653.50,245.88 654.00,244.13 654.50,246.88 655.00,242.57 655.48,244.73 655.95,243.41 656.42,252.50 656.90,249.93 657.36,248.78 657.83,250.12 658.29,254.03 658.75,256.25 659.38,259.82 660.00,261.65 660.48,265.43 660.95,260.21 661.42,262.89 661.90,263.70 662.36,265.09 662.83,263.95 663.29,266.20 663.75,262.64 664.38,271.66 665.00,270.94 665.50,273.45 666.00,273.82 666.50,270.26 667.00,267.85 667.50,268.64 668.00,271.17 668.50,274.77 669.00,268.90 669.50,269.77 670.00,270.68 670.50,271.85 671.00,271.63 671.50,271.30 672.00,272.78 672.50,272.25 673.00,274.68 673.50,271.50 674.00,269.87 674.50,270.72 675.00,270.99 675.50,274.35 676.00,272.03 676.50,271.39 677.00,271.22 677.50,273.28 678.00,269.39 678.50,273.96 679.00,276.69 679.50,277.33 680.00,277.36 680.50,278.83 681.00,279.05 681.50,277.96 682.00,278.27 682.50,276.28 683.00,277.51 683.50,278.24 684.00,274.87 684.50,275.57 685.00,277.30 685.48,278.41 685.95,273.36 686.42,278.40 686.90,279.97 687.36,276.12 687.83,273.89 688.29,266.61 688.75,266.21 689.21,261.90 689.67,259.28 690.14,261.46 690.60,256.25 691.03,260.50 691.47,260.30 691.90,261.20 692.50,273.66 692.98,270.96 693.45,273.26 693.92,275.44 694.40,276.55 694.86,278.50 695.33,278.22 695.79,274.11 696.25,274.81 696.75,274.76 697.25,275.26 697.75,271.58 698.25,274.73 698.75,272.41 699.21,272.55 699.67,270.96 700.14,272.95 700.60,271.49 701.03,270.18 701.47,261.79 701.90,258.75 702.36,263.24 702.83,258.57 703.29,257.62 703.75,255.09 704.21,251.55 704.67,254.04 705.14,252.74 705.60,244.99 706.03,244.66 706.47,246.96 706.90,240.29 707.50,223.62 708.00,228.19 708.50,229.82 709.00,225.68 709.50,226.62 710.00,231.36 710.62,236.33 711.25,242.48 711.71,238.92 712.17,243.34 712.64,235.02 713.10,235.00 713.58,234.94 714.05,235.84 714.52,234.31 715.00,238.44 715.62,241.73 716.25,247.53 716.88,246.15 717.50,253.64 718.12,256.39 718.75,263.67 719.21,262.83 719.67,263.76 720.14,263.97 720.60,265.09 721.08,265.62 721.55,261.86 722.02,259.30 722.50,265.72 722.98,265.66 723.45,262.78 723.92,263.66 724.40,267.81 724.86,268.88 725.33,269.61 725.79,271.90 726.25,272.66 726.71,270.60 727.17,270.05 727.64,264.16 728.10,267.44 728.58,269.26 729.05,265.16 729.52,270.37 730.00,270.46 730.48,265.93 730.95,268.85 731.42,273.55 731.90,271.48 732.36,270.68 732.83,270.23 733.29,270.86 733.75,272.61 734.21,269.66 734.67,266.19 735.14,267.89 735.60,267.30 736.08,269.82 736.55,264.20 737.02,264.89 737.50,263.70 737.98,260.77 738.45,262.72 738.92,260.31 739.40,266.18 739.86,264.76 740.33,264.54 740.79,264.39 741.25,270.18 741.71,271.99 742.17,268.84 742.64,270.01 743.10,271.36 743.58,273.47 744.05,272.98 744.52,268.60 745.00,273.99 745.48,273.53 745.95,275.70 746.42,269.94 746.90,271.37 747.36,273.99 747.83,273.61 748.29,267.65 748.75,268.64 749.21,271.64 749.67,267.19 750.14,269.11 750.60,267.50 751.08,264.99 751.55,270.50 752.02,273.11 752.50,271.48 752.98,272.81 753.45,274.51 753.92,268.53 754.40,272.38 754.86,275.36 755.33,273.40 755.79,273.71 756.25,270.04 756.71,270.27 757.17,266.35 757.64,268.60 758.10,267.58 758.58,266.55 759.05,266.63 759.52,266.70 760.00,266.30 760.48,267.56 760.95,267.95 761.42,260.22 761.90,263.68 762.36,267.13 762.83,263.66 763.29,265.57 763.75,268.02 764.38,271.99 765.00,276.47 765.48,276.84 765.95,272.19 766.42,272.96 766.90,273.30 767.36,270.67 767.83,273.28 768.29,272.83 768.75,270.12 769.21,267.89 769.67,268.72 770.14,269.49 770.60,265.28 771.08,265.41 771.55,261.46 772.02,258.31 772.50,253.58 773.12,260.71 773.75,261.09 774.38,260.56 775.00,264.76 775.48,263.53 775.95,269.25 776.42,268.06 776.90,268.70 777.45,266.72 778.00,266.25"/>
<line x1="240" x2="254.5" y1="372" y2="372" stroke="#1b2d4d" stroke-width="1.8"/>
<text class="lg" x="263" y="375.6" textLength="150" lengthAdjust="spacingAndGlyphs">Corn CVOL Index (CVL)</text>
<line x1="449.5" x2="464" y1="372" y2="372" stroke="#2f9fd8" stroke-width="1.8"/>
<text class="lg" x="469.8" y="375.6" textLength="182" lengthAdjust="spacingAndGlyphs">Soybeans CVOL Index (SVL)</text>
<text class="src" x="27" y="391.8" textLength="180.5" lengthAdjust="spacingAndGlyphs">Source: CME Group, QuikStrike.</text>
</svg>
</body></html>
